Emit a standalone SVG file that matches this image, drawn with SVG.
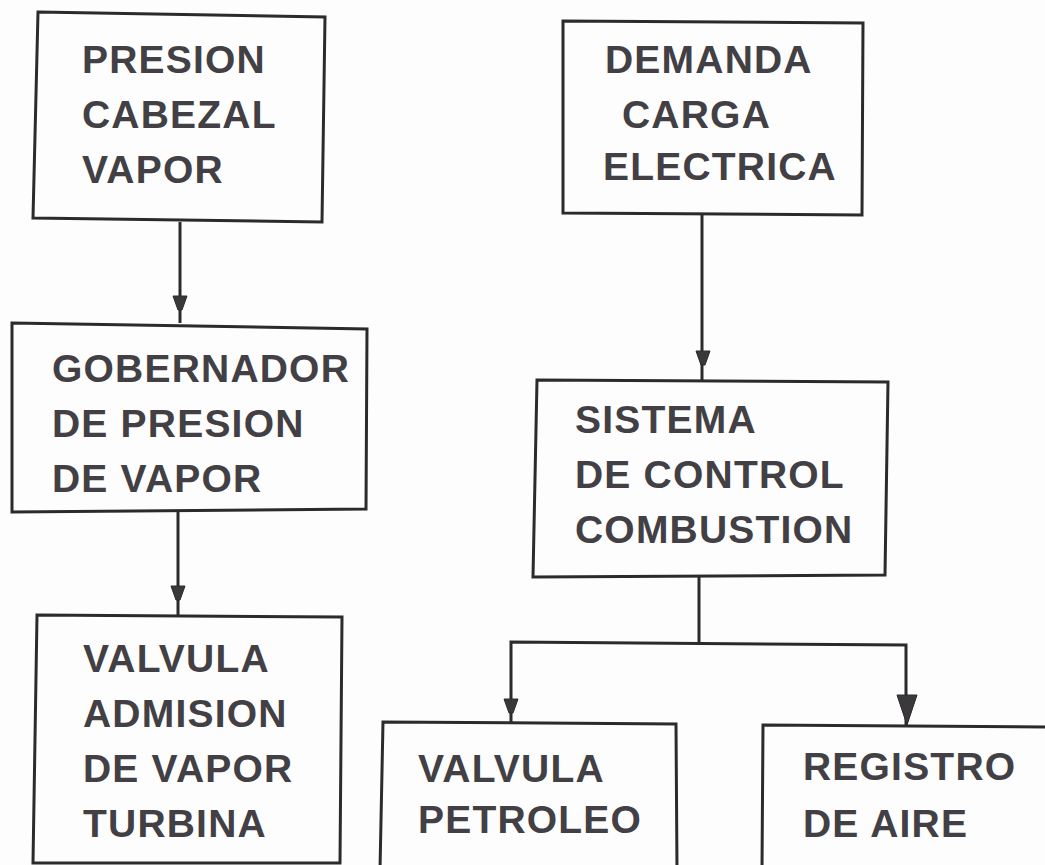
<svg xmlns="http://www.w3.org/2000/svg" width="1045" height="865" viewBox="0 0 1045 865">
  <style>
    .box { fill: none; stroke: #2b2a2c; stroke-width: 3; stroke-linejoin: miter; }
    .wire { fill: none; stroke: #2b2a2c; stroke-width: 3; }
    .head { fill: #3a383b; stroke: #2b2a2c; stroke-width: 1; }
    .lbl { font-family: "Liberation Sans", Arial, sans-serif; font-weight: bold; font-size: 39px; letter-spacing: 1.2px; fill: #424044; }
  </style>
  <defs>
    <path id="tip-small" d="M-7,-9 L7,-9 L2,5 L-2,5 Z"/>
    <path id="tip-large" d="M-10,-16 L10,-16 L0,14 Z"/>
  </defs>
  <rect width="1045" height="865" fill="#fdfdfd"/>

  <!-- connectors -->
  <g id="connectors">
    <path class="wire" d="M180,222 L180,323"/>
    <use href="#tip-small" class="head" x="180" y="305"/>
    <path class="wire" d="M178,511 L178,616"/>
    <use href="#tip-small" class="head" x="178" y="595"/>
    <path class="wire" d="M702,215 L702,381"/>
    <use href="#tip-small" class="head" x="703" y="360"/>
    <path class="wire" d="M699,576 L699,643"/>
    <path class="wire" d="M511,723 L511,642 L906,645 L906,726"/>
    <use href="#tip-small" class="head" x="511" y="708"/>
    <use href="#tip-large" class="head" x="907" y="711"/>
  </g>

  <g id="node-presion-cabezal">
    <polygon class="box" points="38,12 325,17 322,222 33,218"/>
    <text class="lbl" x="82" y="73">PRESION</text>
    <text class="lbl" x="82" y="128">CABEZAL</text>
    <text class="lbl" x="82" y="183">VAPOR</text>
  </g>

  <g id="node-demanda-carga">
    <polygon class="box" points="563,21 863,23 862,215 563,213"/>
    <text class="lbl" x="605" y="73">DEMANDA</text>
    <text class="lbl" x="622" y="128">CARGA</text>
    <text class="lbl" x="603" y="180">ELECTRICA</text>
  </g>

  <g id="node-gobernador">
    <polygon class="box" points="12,323 367,329 366,509 12,512"/>
    <text class="lbl" x="52" y="382">GOBERNADOR</text>
    <text class="lbl" x="52" y="437">DE PRESION</text>
    <text class="lbl" x="52" y="492">DE VAPOR</text>
  </g>

  <g id="node-sistema-control">
    <polygon class="box" points="537,380 888,382 885,575 533,577"/>
    <text class="lbl" x="575" y="433">SISTEMA</text>
    <text class="lbl" x="575" y="488">DE CONTROL</text>
    <text class="lbl" x="575" y="543">COMBUSTION</text>
  </g>

  <g id="node-valvula-admision">
    <polygon class="box" points="37,615 342,617 340,863 33,863"/>
    <text class="lbl" x="83" y="672">VALVULA</text>
    <text class="lbl" x="83" y="727">ADMISION</text>
    <text class="lbl" x="83" y="782">DE VAPOR</text>
    <text class="lbl" x="83" y="837">TURBINA</text>
  </g>

  <g id="node-valvula-petroleo">
    <path class="box" d="M380,870 L383,722 L676,724 L677,870"/>
    <text class="lbl" x="418" y="782">VALVULA</text>
    <text class="lbl" x="418" y="833">PETROLEO</text>
  </g>

  <g id="node-registro-aire">
    <path class="box" d="M762,870 L763,725 L1050,727"/>
    <text class="lbl" x="803" y="780">REGISTRO</text>
    <text class="lbl" x="803" y="837">DE AIRE</text>
  </g>
</svg>
